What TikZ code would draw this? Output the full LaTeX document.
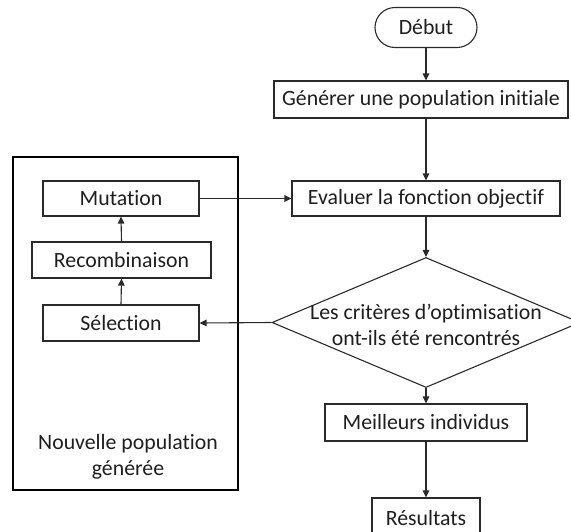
\documentclass[tikz,border=0pt]{standalone}
\usepackage{fontspec}
\setmainfont{Carlito}[Ligatures=NoCommon]
\usetikzlibrary{arrows.meta,shapes.geometric}
\definecolor{linec}{HTML}{2A2A2A}
\definecolor{txtc}{HTML}{1E1E1E}
\begin{document}
\begin{tikzpicture}[x=1pt,y=-1pt,
  font=\fontsize{21.8}{25.5}\selectfont,
  box/.style={draw=linec, line width=1.1pt, inner sep=0pt, text=txtc, minimum height=36pt},
  arr/.style={draw=linec, line width=1.1pt, -{Triangle[length=7pt,width=6.5pt]}}]
\useasboundingbox (0,0) rectangle (571,531);
% outer frame
\node[draw=black, line width=2.4pt, minimum width=225pt, minimum height=333pt, inner sep=0pt] (frame) at (125.5,323.5) {};
\node[text=txtc, align=center, inner sep=0pt] (nouv) at (128,457) {Nouvelle population\\générée};
% left column
\node[box, minimum width=156pt, minimum height=35pt] (mut) at (121,198.5) {Mutation};
\node[box, minimum width=179pt] (rec) at (121.5,260) {Recombinaison};
\node[box, minimum width=156pt] (sel) at (121,323) {Sélection};
% right column
\node[box, rounded corners=20pt, minimum width=102pt, minimum height=40pt] (deb) at (426,27.5) {Début};
\node[box, minimum width=294pt, minimum height=37pt] (gen) at (421,99.5) {Générer une population initiale};
\node[box, minimum width=268pt, minimum height=35pt] (eva) at (426,198.5) {Evaluer la fonction objectif};
\node[diamond, draw=linec, line width=1.1pt, inner sep=0pt, shape aspect=2.37,
      minimum width=308pt, minimum height=130pt] (dia) at (426,322.5) {};
\node[text=txtc, align=center, inner sep=0pt] (diat) at (426,325) {Les critères d’optimisation\\ont-ils été rencontrés};
\node[box, minimum width=202pt, minimum height=37pt] (mei) at (426,422.5) {Meilleurs individus};
\node[box, minimum width=108pt, minimum height=40pt] (res) at (426,518) {Résultats};
% connectors
\draw[arr] (deb.south) -- (deb.south |- gen.north);
\draw[arr] (gen.south -| eva.north) -- (eva.north);
\draw[arr] (eva.south) -- (dia.north);
\draw[arr] (dia.south) -- (mei.north);
\draw[arr] (mei.south) -- (res.north);
\draw[arr] (dia.west) -- (sel.east);
\draw[arr] (mut.east) -- (eva.west);
\draw[arr] (sel.north) -- (rec.south);
\draw[arr] (rec.north) -- (mut.south);
\end{tikzpicture}
\end{document}
